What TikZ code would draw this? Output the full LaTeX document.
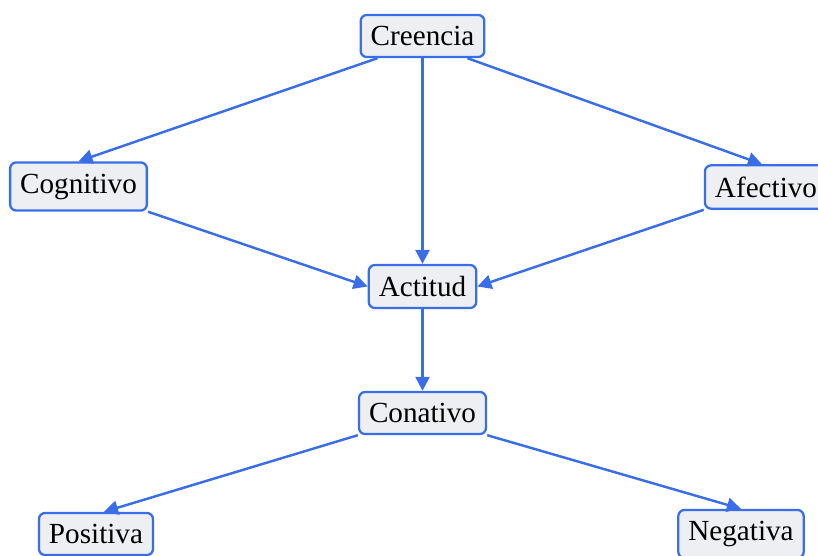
\documentclass[tikz,border=0pt]{standalone}
\usepackage{fontspec}
\setmainfont{Liberation Serif}
\usepackage{xcolor}
\usepackage{tikz}
\usetikzlibrary{arrows.meta}
\definecolor{linkblue}{RGB}{58,110,232}
\definecolor{boxgray}{RGB}{238,239,242}
\tikzset{
    % boxes of the scheme
    concept/.style={draw=linkblue, line width=1.3pt, fill=boxgray, rounded corners=3.5pt,
        inner xsep=5.7pt, inner ysep=6.4pt, font=\fontsize{16.6}{20}\selectfont},
    % connectors
    flow/.style={-{Triangle[length=8pt,width=8pt]}, line width=1.4pt, linkblue}
}
\begin{document}
\begin{tikzpicture}[scale=1]
    \useasboundingbox (0,0) rectangle (16.36,11.1);

    % top level
    \node[concept] (cre) at (8.45, 10.38) {Creencia};

    % components
    \node[concept] (cog) at (1.57, 7.37) {Cognitivo};
    \node[concept] (afe) at (15.32, 7.36) {Afectivo};

    % attitude and behaviour
    \node[concept] (act) at (8.45, 5.37) {Actitud};
    \node[concept] (con) at (8.45, 2.84) {Conativo};

    % outcomes
    \node[concept] (pos) at (1.92, 0.42) {Positiva};
    \node[concept] (neg) at (14.82, 0.42) {Negativa};

    % connectors from belief
    \draw[flow] ([xshift=0.36cm]cre.south west) -- (cog.north);
    \draw[flow] (cre.south) -- (act.north);
    \draw[flow] ([xshift=-0.36cm]cre.south east) -- ([xshift=-0.08cm]afe.north);

    % into attitude
    \draw[flow] (cog.south east) -- (act.west);
    \draw[flow] (afe.south west) -- (act.east);
    \draw[flow] (act.south) -- (con.north);

    % outcomes
    \draw[flow] (con.south west) -- ([xshift=0.16cm]pos.north);
    \draw[flow] (con.south east) -- (neg.north);
\end{tikzpicture}
\end{document}
